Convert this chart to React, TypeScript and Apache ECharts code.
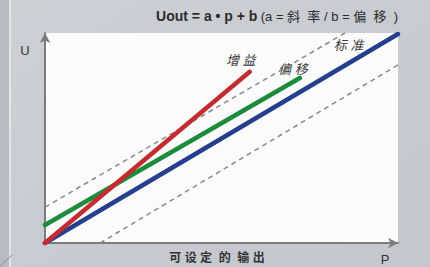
import React, { useEffect, useRef } from "react";
import * as echarts from "echarts";

// data in axis units (0..100 each axis)
const redLine = [[0, 0], [58, 81.5]];
const greenLine = [[0, 8.6], [72.2, 78.6]];
const blueLine = [[0, 0], [100, 99.5]];
const upperDash = [[0, 17.1], [85, 100]];
const lowerDash = [[15.6, 0], [100, 84.8]];
const labelRed = "增 益";
const labelGreen = "偏 移";
const labelBlue = "标 准";
const labelBluePos = [86, 94];

const FONT = "Liberation Sans, Noto Sans CJK SC, sans-serif";

export default function App() {
  const ref = useRef<HTMLDivElement>(null);
  useEffect(() => {
    const chart = echarts.init(ref.current!, null, { renderer: "svg" });
    const mark = (text: string, coord: number[], dx: number, dy: number) => ({
      symbol: "circle",
      symbolSize: 0,
      silent: true,
      data: [{ coord, value: 0 }],
      label: {
        show: true,
        formatter: text,
        position: "inside",
        offset: [dx, dy],
        fontFamily: FONT,
        fontStyle: "italic",
        fontSize: 13,
        color: "#3a3a3a",
      },
    });
    chart.setOption({
      animation: false,
      backgroundColor: {
        type: "linear", x: 0, y: 0, x2: 1, y2: 1,
        colorStops: [
          { offset: 0, color: "#cdd1d6" },
          { offset: 1, color: "#c3c7cd" },
        ],
      },
      grid: {
        left: 45, right: 32, top: 33, bottom: 24,
        show: true, backgroundColor: "#fbfbfb", borderWidth: 0,
      },
      xAxis: {
        type: "value", min: 0, max: 100,
        axisLabel: { show: false }, axisTick: { show: false }, splitLine: { show: false },
        axisLine: { show: true, symbol: ["none", "arrow"], symbolSize: [8, 10], lineStyle: { color: "#7a7c80", width: 2 } },
      },
      yAxis: {
        type: "value", min: 0, max: 100,
        axisLabel: { show: false }, axisTick: { show: false }, splitLine: { show: false },
        axisLine: { show: true, symbol: ["none", "arrow"], symbolSize: [8, 10], lineStyle: { color: "#7a7c80", width: 2 } },
      },
      series: [
        { type: "line", data: upperDash, symbol: "none", lineStyle: { color: "#8a8a8a", width: 1.5, type: [5, 4] } },
        { type: "line", data: lowerDash, symbol: "none", lineStyle: { color: "#8a8a8a", width: 1.5, type: [5, 4] } },
        {
          type: "line", symbol: "none", lineStyle: { color: "#263e8e", width: 4.5, cap: "round" },
          data: blueLine,
          markPoint: mark(labelBlue, labelBluePos, 0, 0),
        },
        {
          type: "line", symbol: "none", lineStyle: { color: "#1d8b3c", width: 4.5, cap: "round" },
          data: greenLine,
          markPoint: mark(labelGreen, greenLine[1], -7, -8),
        },
        {
          type: "line", symbol: "none", lineStyle: { color: "#c42d2f", width: 4.5, cap: "round" },
          data: redLine,
          markPoint: mark(labelRed, redLine[1], -9, -11),
        },
      ],
      graphic: [
        { type: "rect", shape: { x: 0, y: 0, width: 9, height: 267 }, style: { fill: "#b8bcc2" } },
        { type: "rect", shape: { x: 9, y: 0, width: 2, height: 267 }, style: { fill: "#e2e5e8" } },
        { type: "line", shape: { x1: 0, y1: 266, x2: 12, y2: 255 }, style: { stroke: "#8c8f94", lineWidth: 1 } },
        {
          type: "text", x: 398, y: 16,
          style: {
            text: "{b|Uout = a • p + b} {r|(a = 斜  率 / b = 偏  移  )}",
            align: "right", verticalAlign: "middle",
            rich: {
              b: { fontFamily: FONT, fontSize: 14, fontWeight: "bold", fill: "#2b2b2b" },
              r: { fontFamily: FONT, fontSize: 13, fill: "#2b2b2b" },
            },
          },
        },
        { type: "text", x: 25, y: 50, style: { text: "U", fontFamily: FONT, fontSize: 13, fill: "#333", align: "center", verticalAlign: "middle" } },
        { type: "text", x: 385, y: 259, style: { text: "P", fontFamily: FONT, fontSize: 13, fill: "#333", align: "center", verticalAlign: "middle" } },
        { type: "text", x: 217, y: 258, style: { text: "可 设 定  的  输 出", fontFamily: FONT, fontSize: 12, fontWeight: "bold", fill: "#333", align: "center", verticalAlign: "middle" } },
      ],
    });
    return () => chart.dispose();
  }, []);
  return <div ref={ref} style={{ width: 430, height: 267, position: "absolute", left: 0, top: 0 }} />;
}
